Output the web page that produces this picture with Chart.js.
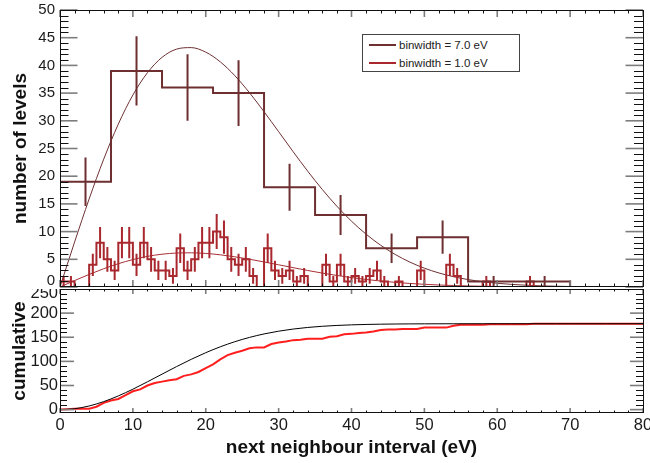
<!DOCTYPE html>
<html><head><meta charset="utf-8">
<script src="https://cdn.jsdelivr.net/npm/chart.js@4/dist/chart.umd.min.js"></script>
<style>
html,body{margin:0;padding:0;background:#fff;}
#wrap{position:relative;width:650px;height:463px;overflow:hidden;background:#fff;}
#top{position:absolute;left:0;top:0;}
#bot{position:absolute;left:0;top:289px;}
#legend{position:absolute;left:362px;top:34px;width:156px;height:36px;border:1px solid #444;background:#fff;
 font-family:"Liberation Sans",Arial,Helvetica,sans-serif;font-size:11.5px;color:#222;}
#legend .row{position:absolute;left:6px;height:14px;display:flex;align-items:center;white-space:nowrap;}
#legend .sw{width:27px;height:2px;margin-right:3px;}
</style></head>
<body>
<div id="wrap">
<canvas id="top" width="650" height="289"></canvas>
<canvas id="bot" width="650" height="174"></canvas>
<div id="legend"></div>
</div>
<script>
// ---------------- data ----------------
const binStart = 0;
const binWidth7 = 7;
const binWidth1 = 1;
const counts7 = [19, 39, 36, 35, 18, 13, 7, 9, 1, 1];
const counts1 = [1,1,0,0,4,8,5,3,8,8, 4,8,5,3,3,2,7,3,5,8, 8,10,9,5,4,5,2,0,7,3,
                 2,3,1,2,0,0,4,1,4,1, 2,1,2,3,1,0,1,0,0,3, 0,0,0,4,2,0,0,0,1,0,
                 0,0,0,0,1,0,0,0,0,0];
const fitX   = [0,2,4,6,8,10,12,14,16,18,20,22,24,26,28,30,32,34,36,38,40,42,44,46,48,50,52,54,56,58,60,62,64,66,68,70,75,80];
const fit7   = [0,8.11,15.90,23.08,29.40,34.65,38.68,41.45,42.94,43.21,42.39,40.64,38.13,35.07,31.64,28.04,24.41,20.89,17.59,14.57,
                11.88,9.54,7.54,5.87,4.50,3.40,2.53,1.86,1.34,0.96,0.67,0.47,0.32,0.21,0.14,0.09,0.03,0.01];
const fit1   = [0,1.16,2.27,3.30,4.20,4.95,5.53,5.92,6.13,6.17,6.06,5.81,5.45,5.01,4.52,4.01,3.49,2.98,2.51,2.08,
                1.70,1.36,1.08,0.84,0.64,0.49,0.36,0.27,0.19,0.14,0.10,0.07,0.05,0.03,0.02,0.01,0,0];
const cumFit = [0,1.92,7.57,16.59,28.42,42.35,57.65,73.50,89.23,104.2,117.98,130.23,140.80,149.65,156.86,162.58,166.99,170.31,172.74,174.48,
                175.70,176.53,177.08,177.43,177.66,177.80,177.89,177.94,177.96,177.98,177.99,178,178,178,178,178,178,178];
const cumX   = [0,1,2,3,4,5,6,7,8,9,10,11,12,13,14,15,16,17,18,19,20,21,22,23,24,25,26,27,28,29,30,31,32,33,34,35,36,37,38,39,40,
                41,42,43,44,45,46,47,48,49,50,51,52,53,54,55,56,57,58,59,60,61,62,63,64,65,66,67,68,69,70,71,72,73,74,75,76,77,78,79,80];
const cumRed = [0,1,2,2,2,6,14,19,22,30,38,42,50,55,58,61,63,70,73,78,86,94,104,113,118,122,127,129,129,136,139,141,144,145,147,147,147,
                151,152,156,157,159,160,162,165,166,166,167,167,167,170,170,170,170,174,176,176,176,176,177,177,177,177,177,177,
                178,178,178,178,178,178,178,178,178,178,178,178,178,178,178,178];
const xTicks = [0,10,20,30,40,50,60,70,80];
const labels = ['binwidth = 7.0 eV', 'binwidth = 1.0 eV'];

// ---------------- helpers ----------------
const FONT = '"Liberation Sans", Arial, Helvetica, sans-serif';
const C7 = '#6e2f31', C1 = '#a8282e', CFIT7 = '#6e3033', CFIT1 = '#a83036', CRED = '#ff1e1e';

function histPoints(start, width, counts) {
  const pts = counts.map((c, i) => ({x: start + i * width, y: c}));
  pts.push({x: start + counts.length * width, y: 0});
  return pts;
}
function errPoints(start, width, counts) {
  const pts = [];
  counts.forEach((c, i) => {
    if (c <= 0) return;
    const xc = start + (i + 0.5) * width, e = Math.sqrt(c);
    pts.push({x: xc, y: c - e}, {x: xc, y: c + e}, {x: xc, y: null});
  });
  return pts;
}
const zip = (xs, ys) => xs.map((x, i) => ({x, y: ys[i]}));

const rootFrame = {
  id: 'rootFrame',
  afterDatasetsDraw(chart, args, o) {
    const {ctx, chartArea: a} = chart;
    const xs = chart.scales.x, ys = chart.scales.y;
    ctx.save();
    const seg = (x1, y1, x2, y2) => { ctx.beginPath(); ctx.moveTo(x1, y1); ctx.lineTo(x2, y2); ctx.stroke(); };
    const each = (min, max, step, fn) => {
      for (let k = Math.ceil(min / step - 1e-9); k * step <= max + 1e-9; k++) fn(k * step);
    };
    // minor ticks
    ctx.strokeStyle = '#111'; ctx.lineWidth = 1;
    each(xs.min, xs.max, o.xMinor, v => {
      if (Math.abs(v / o.xMajor - Math.round(v / o.xMajor)) < 1e-6) return;
      const p = Math.round(xs.getPixelForValue(v)) + 0.5;
      seg(p, a.bottom, p, a.bottom - o.xMinLen);
      seg(p, a.top, p, a.top + o.xMinLen);
    });
    each(ys.min, ys.max, o.yMinor, v => {
      if (Math.abs(v / o.yMajor - Math.round(v / o.yMajor)) < 1e-6) return;
      const p = Math.round(ys.getPixelForValue(v)) + 0.5;
      seg(a.left, p, a.left + o.yMinLen, p);
      seg(a.right, p, a.right - o.yMinLenR, p);
    });
    // major ticks
    ctx.strokeStyle = '#7d7d7d'; ctx.lineWidth = 1.6;
    each(xs.min, xs.max, o.xMajor, v => {
      const p = xs.getPixelForValue(v);
      seg(p, a.bottom, p, a.bottom - o.xMajLen);
      seg(p, a.top, p, a.top + o.xMajLen);
    });
    each(ys.min, ys.max, o.yMajor, v => {
      const p = ys.getPixelForValue(v);
      seg(a.left, p, a.left + o.yMajLen, p);
      seg(a.right, p, a.right - o.yMajLenR, p);
    });
    // frame
    ctx.strokeStyle = '#111'; ctx.lineWidth = 1;
    ctx.strokeRect(Math.round(a.left) + 0.5, Math.round(a.top) + 0.5,
                   Math.round(a.right) - Math.round(a.left), Math.round(a.bottom) - Math.round(a.top) - 1);
    ctx.restore();
  }
};

const lineBase = {pointRadius: 0, pointHoverRadius: 0, fill: false, tension: 0};

// ---------------- top chart ----------------
const topChart = new Chart(document.getElementById('top'), {
  type: 'line',
  data: {
    datasets: [
      {...lineBase, label: labels[0], inLegend: true, data: histPoints(binStart, binWidth7, counts7),
        stepped: 'before', borderColor: C7, borderWidth: 2},
      {...lineBase, label: 'err7', data: errPoints(binStart, binWidth7, counts7), borderColor: C7, borderWidth: 2, spanGaps: false},
      {...lineBase, label: labels[1], inLegend: true, data: histPoints(binStart, binWidth1, counts1),
        stepped: 'before', borderColor: C1, borderWidth: 2},
      {...lineBase, label: 'err1', data: errPoints(binStart, binWidth1, counts1), borderColor: C1, borderWidth: 2, spanGaps: false},
      {...lineBase, label: 'fit7', data: zip(fitX, fit7), borderColor: CFIT7, borderWidth: 1, cubicInterpolationMode: 'monotone'},
      {...lineBase, label: 'fit1', data: zip(fitX, fit1), borderColor: CFIT1, borderWidth: 1, cubicInterpolationMode: 'monotone'}
    ]
  },
  options: {
    responsive: false, animation: false, devicePixelRatio: 1,
    layout: {padding: {left: 0, right: 7, top: 10, bottom: 2}},
    plugins: {legend: {display: false}, tooltip: {enabled: false},
      rootFrame: {xMajor: 10, xMinor: 2, yMajor: 5, yMinor: 1, xMajLen: 7, xMinLen: 3.5,
                  yMajLen: 17.5, yMinLen: 8.5, yMajLenR: 17.5, yMinLenR: 9}},
    scales: {
      x: {type: 'linear', min: 0, max: 80, display: false},
      y: {type: 'linear', min: 0, max: 50,
        grid: {display: false, drawTicks: false}, border: {display: false},
        ticks: {stepSize: 5, padding: 5, color: '#1a1a1a', autoSkip: false,
          font: (c) => ({family: FONT, size: 15, lineHeight: (c.tick && c.tick.value === 0) ? '12px' : 1.2}),
          callback: (v) => v === 0 ? ['0', ''] : String(v)},
        title: {display: true, text: 'number of levels', color: '#111',
          font: {family: FONT, size: 19, weight: 'bold'}, padding: {top: 9, bottom: 0}},
        afterFit: (s) => { s.width = 60; s.paddingTop = 0; s.paddingBottom = 0; }
      }
    }
  },
  plugins: [rootFrame]
});

// ---------------- bottom chart ----------------
const botChart = new Chart(document.getElementById('bot'), {
  type: 'line',
  data: {
    datasets: [
      {...lineBase, label: 'cumulative fit', data: zip(fitX, cumFit), borderColor: '#000', borderWidth: 1, cubicInterpolationMode: 'monotone'},
      {...lineBase, label: 'cumulative', data: zip(cumX, cumRed), borderColor: CRED, borderWidth: 2}
    ]
  },
  options: {
    responsive: false, animation: false, devicePixelRatio: 1,
    layout: {padding: {left: 0, right: 7, top: 0, bottom: 0}},
    plugins: {legend: {display: false}, tooltip: {enabled: false},
      rootFrame: {xMajor: 10, xMinor: 2, yMajor: 50, yMinor: 10, xMajLen: 5, xMinLen: 2.5,
                  yMajLen: 14, yMinLen: 7, yMajLenR: 13, yMinLenR: 7}},
    scales: {
      x: {type: 'linear', min: 0, max: 80,
        afterBuildTicks: (s) => { s.ticks = xTicks.map(v => ({value: v})); },
        grid: {display: false, drawTicks: false}, border: {display: false},
        ticks: {padding: 3, color: '#1a1a1a', maxRotation: 0, autoSkip: false,
          font: {family: FONT, size: 16.5}},
        title: {display: true, text: 'next neighbour interval (eV)', color: '#111',
          font: {family: FONT, size: 19, weight: 'bold'}, padding: {top: 0, bottom: 4}},
        afterFit: (s) => { s.height = 50; s.paddingLeft = 0; s.paddingRight = 0; }
      },
      y: {type: 'linear', min: -7, max: 250,
        grid: {display: false, drawTicks: false}, border: {display: false},
        ticks: {stepSize: 50, includeBounds: false, padding: 2, color: '#1a1a1a', autoSkip: false,
          font: (c) => ({family: FONT, size: 16.5, lineHeight: (c.tick && c.tick.value === 250) ? '8px' : 1.2}),
          callback: (v) => v === 250 ? ['', '250'] : String(v)},
        title: {display: true, text: 'cumulative', color: '#111',
          font: {family: FONT, size: 19, weight: 'bold'}, padding: {top: 8, bottom: 0}},
        afterFit: (s) => { s.width = 60; s.paddingTop = 0; s.paddingBottom = 0; }
      }
    }
  },
  plugins: [rootFrame]
});

// ---------------- legend (HTML, built from the chart's datasets) ----------------
const leg = document.getElementById('legend');
topChart.data.datasets.filter(d => d.inLegend).forEach((d, i) => {
  const row = document.createElement('div');
  row.className = 'row';
  row.style.top = (3 + i * 18) + 'px';
  const sw = document.createElement('span');
  sw.className = 'sw'; sw.style.background = d.borderColor;
  const tx = document.createElement('span');
  tx.textContent = d.label;
  row.appendChild(sw); row.appendChild(tx);
  leg.appendChild(row);
});
</script>
</body></html>
